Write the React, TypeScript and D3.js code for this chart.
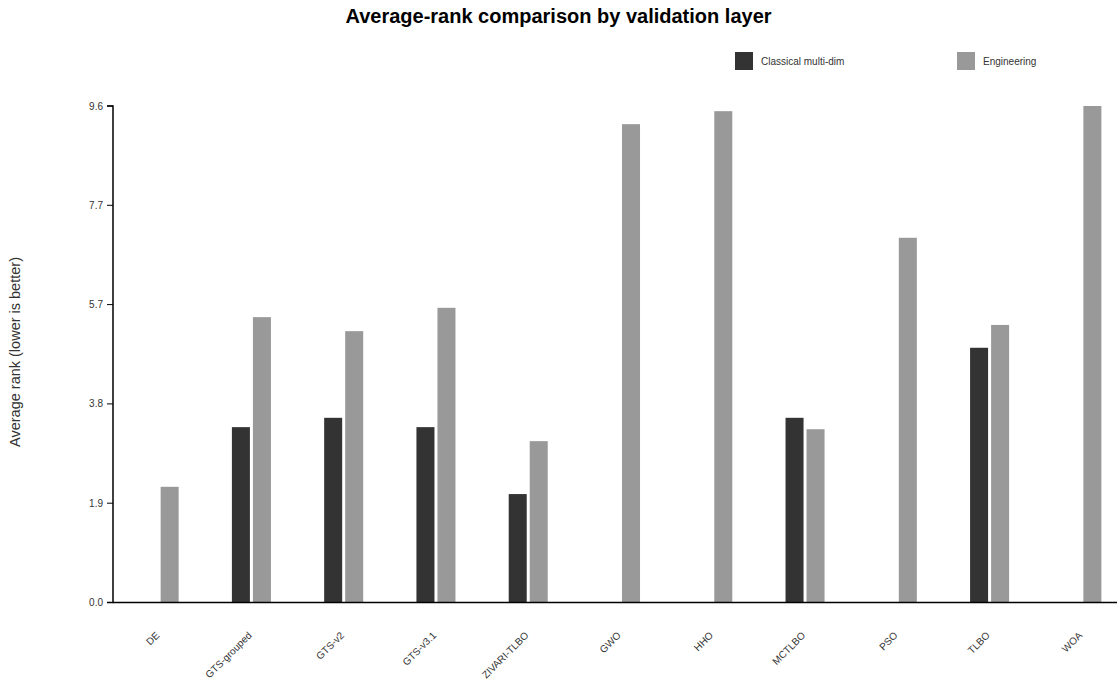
import React from "react";
import * as d3 from "d3";

const categories = ["DE", "GTS-grouped", "GTS-v2", "GTS-v3.1", "ZIVARI-TLBO", "GWO", "HHO", "MCTLBO", "PSO", "TLBO", "WOA"];
const seriesNames = ["Classical multi-dim", "Engineering"];
const classicalValues: (number | null)[] = [null, 3.38, 3.56, 3.38, 2.09, null, null, 3.56, null, 4.91, null];
const engineeringValues: (number | null)[] = [2.23, 5.5, 5.23, 5.68, 3.11, 9.22, 9.47, 3.34, 7.03, 5.35, 9.57];
const yTickLabels = ["0.0", "1.9", "3.8", "5.7", "7.7", "9.6"];
const seriesColors = ["#333333", "#999999"];

const W = 1117;
const H = 683;
const M = { left: 113, right: 1128, top: 106, bottom: 602.5 };

export default function App() {
  const allVals = [...classicalValues, ...engineeringValues].filter((v) => v != null) as number[];
  const yMax = d3.max(allVals) as number;
  const y = d3.scaleLinear().domain([0, yMax]).range([M.bottom, M.top]);
  const x0 = d3.scaleBand<string>().domain(categories).range([M.left, M.right]).paddingInner(0.577).paddingOuter(0.2885);
  const x1 = d3.scaleBand<string>().domain(seriesNames).range([0, x0.bandwidth()]).paddingInner(0.1429).paddingOuter(0);
  const tickVals = yTickLabels.map((_, i) => (yMax * i) / (yTickLabels.length - 1));
  const series = [classicalValues, engineeringValues];
  const font = "'Liberation Sans', Arial, sans-serif";

  return (
    <svg width={W} height={H} style={{ position: "absolute", left: 0, top: 0 }} fontFamily={font}>
      <text x={W / 2} y={23} textAnchor="middle" fontSize={20} fontWeight="bold" fill="#000">
        Average-rank comparison by validation layer
      </text>
      {/* legend */}
      {seriesNames.map((s, i) => (
        <g key={s} transform={`translate(${735 + i * 222},52)`}>
          <rect width={18} height={18} fill={seriesColors[i]} />
          <text x={26} y={9} dominantBaseline="central" fontSize={10} fill="#333">
            {s}
          </text>
        </g>
      ))}
      {/* bars */}
      {categories.map((c, ci) => (
        <g key={c} transform={`translate(${x0(c)},0)`}>
          {series.map((vals, si) => {
            const v = vals[ci];
            if (v == null) return null;
            return (
              <rect
                key={si}
                x={x1(seriesNames[si])}
                y={y(v)}
                width={x1.bandwidth()}
                height={y(0) - y(v)}
                fill={seriesColors[si]}
              />
            );
          })}
        </g>
      ))}
      {/* x axis */}
      <line x1={M.left} x2={M.right} y1={M.bottom} y2={M.bottom} stroke="#000" strokeWidth={1.5} />
      {categories.map((c) => {
        const cx = (x0(c) as number) + x0.bandwidth() / 2;
        return (
          <text key={c} transform={`translate(${cx + 1},636) rotate(-45)`} textAnchor="end" fontSize={10} fill="#333">
            {c}
          </text>
        );
      })}
      {/* y axis */}
      <path
        d={`M${M.left - 6},${y(yMax)}H${M.left}V${y(0)}H${M.left - 6}`}
        fill="none"
        stroke="#000"
        strokeWidth={1.5}
      />
      {tickVals.map((t, i) => (
        <g key={i} transform={`translate(0,${y(t)})`}>
          <line x1={M.left - 6} x2={M.left} stroke="#000" strokeWidth={1} />
          <text x={M.left - 10} dominantBaseline="central" textAnchor="end" fontSize={10} fill="#333">
            {yTickLabels[i]}
          </text>
        </g>
      ))}
      <text transform={`translate(20,352) rotate(-90)`} textAnchor="middle" fontSize={14.5} fill="#333">
        Average rank (lower is better)
      </text>
    </svg>
  );
}
